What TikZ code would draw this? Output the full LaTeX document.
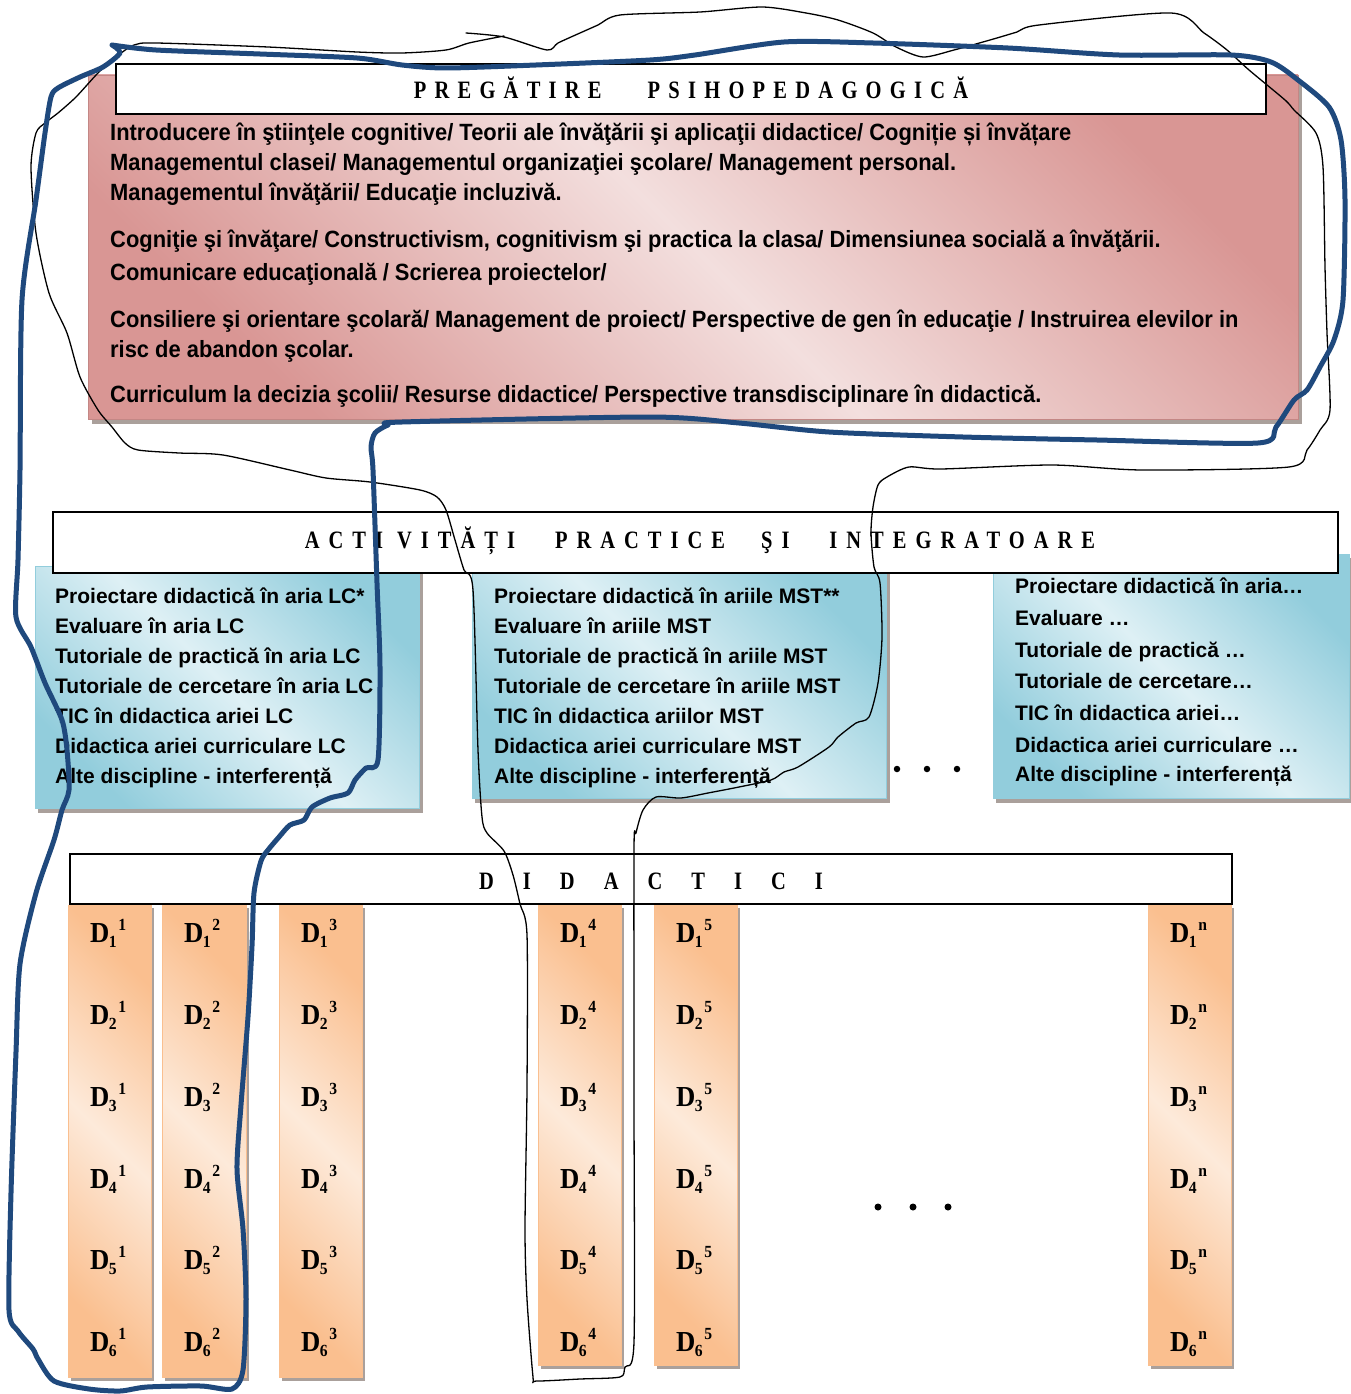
\documentclass[tikz,border=0pt]{standalone}
\usepackage{fontspec}
\setmainfont{Liberation Sans}
\newfontfamily\pinkfont[FakeStretch=0.932]{Liberation Sans}
\newfontfamily\hdrfont[FakeStretch=0.82,LetterSpace=33]{Liberation Serif}
\newfontfamily\hdrfontb[FakeStretch=0.82,LetterSpace=36]{Liberation Serif}
\newfontfamily\hdrwide[FakeStretch=0.82]{Liberation Serif}
\newfontfamily\dfont[FakeStretch=0.92]{Liberation Serif}
\definecolor{pinkD}{RGB}{217,150,148}
\definecolor{pinkL}{RGB}{243,223,222}
\definecolor{blueD}{RGB}{146,205,220}
\definecolor{blueL}{RGB}{222,240,245}
\definecolor{orangeD}{RGB}{250,191,143}
\definecolor{orangeL}{RGB}{253,234,218}
\definecolor{handblue}{RGB}{31,73,125}
\definecolor{shadowc}{RGB}{170,160,155}
\newcommand{\Dlab}[2]{D\kern-0.5pt\raisebox{-5pt}{\fontsize{17}{17}\selectfont #1}\kern1.5pt\raisebox{12pt}{\fontsize{17}{17}\selectfont #2}}
\tikzset{
  hdr/.style={draw=black, line width=2pt, fill=white},
  pinkbox/.style={top color=pinkD, bottom color=pinkD, middle color=pinkL, shading angle=-45, draw=pinkD!90!black, line width=0.8pt},
  bluebox/.style={top color=blueD, bottom color=blueD, middle color=blueL, shading angle=-45, draw=blueD, line width=1pt},
  orbox/.style={top color=orangeD, bottom color=orangeD, middle color=orangeL, shading angle=-45, draw=orangeD, line width=1pt},
  shadowbox/.style={fill=shadowc},
  pinktxt/.style={inner sep=0pt, anchor=base west, font=\pinkfont\bfseries\fontsize{23.5}{28}\selectfont},
  bluetxt/.style={inner sep=0pt, anchor=base west, font=\bfseries\fontsize{21}{25}\selectfont},
  hdrtxt/.style={inner sep=0pt, anchor=base, font=\hdrfont\bfseries\fontsize{25}{28}\selectfont},
  dlab/.style={inner sep=0pt, anchor=base west, font=\dfont\bfseries\fontsize{29}{32}\selectfont},
  handline/.style={draw=handblue, line width=5pt, line cap=round, line join=round},
  thinline/.style={draw=black, line width=1.3pt, line cap=round, line join=round},
  dot/.style={circle, fill=black, inner sep=0pt, minimum size=6.5pt}
}
\begin{document}
\begin{tikzpicture}[x=1pt,y=-1pt]
\useasboundingbox (0,0) rectangle (1351,1394);
\fill[white] (0,0) rectangle (1351,1394);

% ---------- top block ----------
\fill[shadowbox] (92,80) rectangle (1302,424);
\shade[pinkbox] (88,75) rectangle (1298,419);
\node[hdr, minimum width=1150pt, minimum height=50pt, anchor=north west] (h1) at (115,63) {};
\node[hdrtxt] (h1t) at (691,99) {PREGĂTIRE\hspace{46pt}PSIHOPEDAGOGICĂ};

\node[pinktxt] (p1) at (110,140) {Introducere în ştiinţele cognitive/ Teorii ale învăţării şi aplicaţii didactice/ Cogniție și învățare};
\node[pinktxt] (p2) at (110,170) {Managementul clasei/ Managementul organizaţiei şcolare/ Management personal.};
\node[pinktxt] (p3) at (110,200) {Managementul învăţării/ Educaţie incluzivă.};
\node[pinktxt] (p4) at (110,247) {Cogniţie şi învăţare/ Constructivism, cognitivism şi practica la clasa/ Dimensiunea socială a învăţării.};
\node[pinktxt] (p5) at (110,280) {Comunicare educaţională / Scrierea proiectelor/};
\node[pinktxt] (p6) at (110,327) {Consiliere şi orientare şcolară/ Management de proiect/ Perspective de gen în educaţie / Instruirea elevilor in};
\node[pinktxt] (p7) at (110,357) {risc de abandon şcolar.};
\node[pinktxt] (p8) at (110,402) {Curriculum la decizia şcolii/ Resurse didactice/ Perspective transdisciplinare în didactică.};

% ---------- middle block ----------
\fill[shadowbox] (38,570) rectangle (423,813);
\shade[bluebox] (35,566) rectangle (419,808);
\fill[shadowbox] (475,570) rectangle (890,803);
\shade[bluebox] (472,566) rectangle (886,798);
\fill[shadowbox] (996,558) rectangle (1351,803);
\shade[bluebox] (993,554) rectangle (1349,798);
\node[hdr, minimum width=1285pt, minimum height=61pt, anchor=north west] (h2) at (52,511) {};
\node[hdrtxt, font=\hdrfontb\bfseries\fontsize{25}{28}\selectfont] (h2t) at (700,548) {ACTI VITĂȚI\hspace{40pt}PRACTICE\hspace{36pt}ŞI\hspace{40pt}INTEGRATOARE};

\foreach \t [count=\i] in {Proiectare didactică în aria LC*, Evaluare în aria LC, Tutoriale de practică în aria LC, Tutoriale de cercetare în aria LC, TIC în didactica ariei LC, Didactica ariei curriculare LC, Alte discipline - interferență}
  \node[bluetxt] (a\i) at (55,573+30*\i) {\t};
\foreach \t [count=\i] in {Proiectare didactică în ariile MST**, Evaluare în ariile MST, Tutoriale de practică în ariile MST, Tutoriale de cercetare în ariile MST, TIC în didactica ariilor MST, Didactica ariei curriculare MST, Alte discipline - interferență}
  \node[bluetxt] (b\i) at (494,573+30*\i) {\t};
\foreach \t/\y [count=\i] in {Proiectare didactică în aria…/593, Evaluare …/625, Tutoriale de practică …/657, Tutoriale de cercetare…/688, TIC în didactica ariei…/720, Didactica ariei curriculare …/752, Alte discipline - interferență/781}
  \node[bluetxt] (c\i) at (1015,\y) {\t};

\node[dot] (m1) at (897,769) {};
\node[dot] (m2) at (927,769) {};
\node[dot] (m3) at (957,769) {};

% ---------- bottom block ----------
\foreach \xa/\xb/\yb/\s in {68/151/1377/1, 162/246/1377/2, 279/362/1377/3, 538/621/1365/4, 654/737/1365/5, 1148/1231/1365/n}{
  \fill[shadowbox] (\xa+3,908) rectangle (\xb+3,\yb+4);
  \shade[orbox] (\xa,905) rectangle (\xb,\yb);
  \foreach \r/\yy in {1/942, 2/1024, 3/1106, 4/1188, 5/1269, 6/1351}
    \node[dlab] (d\r\s) at (\xa+22,\yy) {\Dlab{\r}{\s}};
}
\node[hdr, minimum width=1162pt, minimum height=50pt, anchor=north west] (h3) at (69,853) {};
\node[hdrtxt, font=\hdrwide\bfseries\fontsize{25}{28}\selectfont] (h3t) at (651,889) {{\spaceskip=29pt D I D A C T I C I}};

\node[dot, minimum size=7pt] (n1) at (878,1207) {};
\node[dot, minimum size=7pt] (n2) at (913,1207) {};
\node[dot, minimum size=7pt] (n3) at (948,1207) {};

% ---------- hand-drawn loops ----------
\draw[thinline] plot[smooth, tension=0.45] coordinates {
(466,33) (504,37) (547,50) (558,43) (580,33) (598,25) (620,15) (700,12) (762,7) (806,13) (838,20) (873,33) (896,47) (923,57) (954,50) (990,40) (1017,32) (1039,25) (1171,13) (1204,33) (1227,50) (1249,70) (1285,100) (1294,110) (1316,133) (1323,167) (1325,267) (1327,333) (1330,410) (1320,430) (1307,450) (1289,467) (1142,470) (1052,465) (941,469) (909,467) (887,477) (878,485) (873,507) (871,533) (874,567) (880,583) (882,637) (878,683) (869,717) (856,723) (838,737) (829,747) (798,767) (784,772) (771,780) (739,787) (708,793) (681,798) (656,797) (643,810) (636,833) (634,850) (634,1100) (634,1342) (625,1367) (620,1377) (580,1379) (536,1381) (533,1377) (527,1299) (525,1229) (527,1087) (527,935) (520,904) (513,875) (504,851) (487,833) (482,817) (478,750) (473,590) (464,570) (455,540) (446,510) (437,497) (420,490) (370,482) (326,478) (290,470) (223,455) (179,453) (138,450) (125,443) (112,427) (98,410) (80,377) (67,333) (49,293) (36,233) (31,167) (36,133) (45,123) (58,113) (76,97) (98,73) (116,57) (134,45) (156,43) (268,47) (357,52) (402,53) (446,50) (469,43) (504,36)};

\draw[handline] plot[smooth, tension=0.45] coordinates {
(112,45) (156,50) (260,54) (357,58) (402,65) (446,68) (536,65) (650,60) (695,55) (784,42) (873,43) (1008,48) (1119,55) (1231,55) (1271,62) (1298,80) (1329,107) (1341,140) (1345,200) (1343,300) (1334,340) (1320,367) (1307,390) (1294,400) (1276,427) (1258,443) (1097,440) (963,437) (829,432) (739,423) (650,417) (402,422) (388,425) (375,433) (371,447) (373,470) (377,583) (380,667) (378,760) (366,768) (355,780) (348,793) (330,798) (312,807) (304,820) (290,825) (279,837) (268,850) (261,861) (254,893) (252,946) (248,1017) (241,1105) (237,1169) (243,1229) (246,1299) (243,1370) (232,1389) (201,1386) (147,1387) (120,1391) (89,1389) (54,1381) (38,1359) (33,1349) (18,1331) (9,1310) (11,1193) (16,1052) (20,964) (36,893) (54,840) (62,810) (69,790) (67,750) (62,720) (45,683) (31,647) (16,617) (18,560) (20,470) (22,300) (36,200) (45,133) (51,97) (58,88) (80,77) (103,67) (120,53) (112,45)};
\end{tikzpicture}
\end{document}
